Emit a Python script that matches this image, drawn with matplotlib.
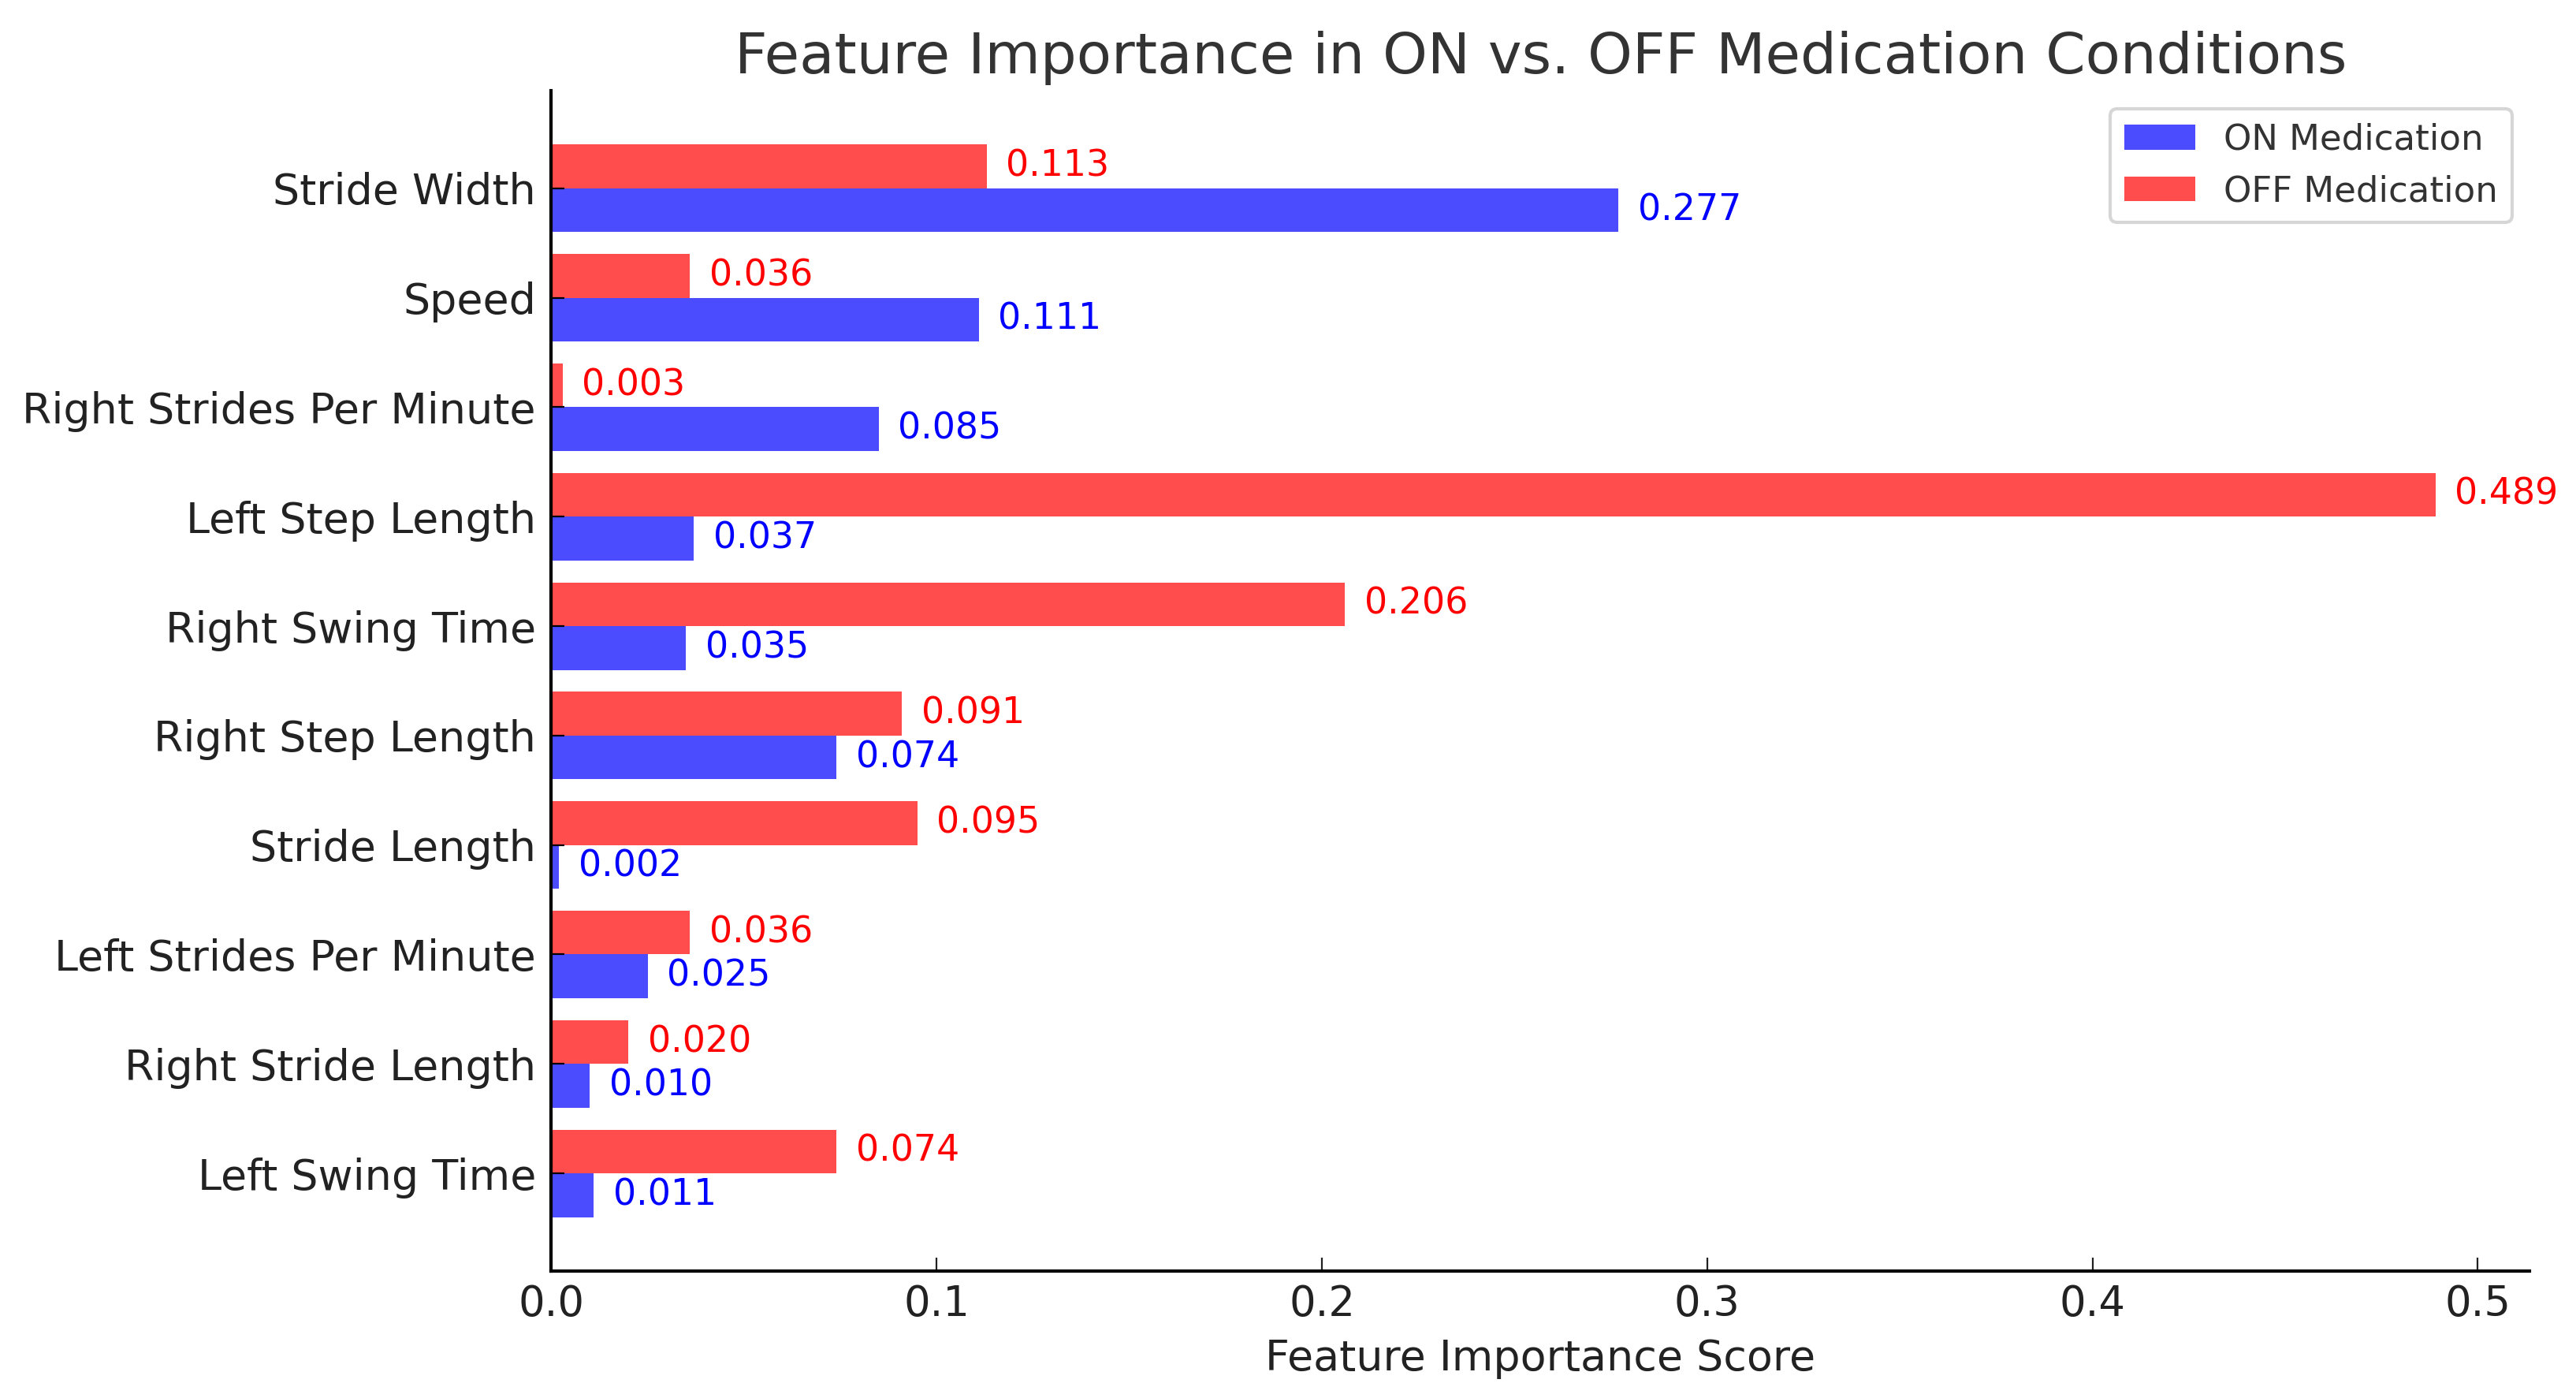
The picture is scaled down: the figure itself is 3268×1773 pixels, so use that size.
import numpy as np
import matplotlib
matplotlib.use("Agg")
import matplotlib.pyplot as plt

features = [
    "Stride Width",
    "Speed",
    "Right Strides Per Minute",
    "Left Step Length",
    "Right Swing Time",
    "Right Step Length",
    "Stride Length",
    "Left Strides Per Minute",
    "Right Stride Length",
    "Left Swing Time",
]
on_med = [0.277, 0.111, 0.085, 0.037, 0.035, 0.074, 0.002, 0.025, 0.010, 0.011]
off_med = [0.113, 0.036, 0.003, 0.489, 0.206, 0.091, 0.095, 0.036, 0.020, 0.074]

# top feature first -> reverse positions
y = np.arange(len(features))[::-1]
h = 0.4

fig, ax = plt.subplots(figsize=(16.34, 8.865), dpi=200)
fig.subplots_adjust(left=0.214, right=0.982, top=0.935, bottom=0.091)

ax.barh(y - h / 2, on_med, height=h, color="blue", alpha=0.7, label="ON Medication")
ax.barh(y + h / 2, off_med, height=h, color="red", alpha=0.7, label="OFF Medication")

for yi, v in zip(y, on_med):
    ax.text(v + 0.005, yi - h / 2, f"{v:.3f}", va="center", color="blue", fontsize=16.5)
for yi, v in zip(y, off_med):
    ax.text(v + 0.005, yi + h / 2, f"{v:.3f}", va="center", color="red", fontsize=16.5)

ax.set_yticks(y)
ax.set_yticklabels(features, fontsize=19.4, color="#222222")
ax.tick_params(axis="x", labelsize=19, colors="#222222", direction="in", length=6, pad=6)
ax.tick_params(axis="y", direction="in", length=6, pad=7)
ax.set_xlabel("Feature Importance Score", fontsize=19.4, color="#222222", labelpad=6)
ax.set_title("Feature Importance in ON vs. OFF Medication Conditions",
             fontsize=26, color="#333333", pad=8)

for s in ["top", "right"]:
    ax.spines[s].set_visible(False)
ax.spines["left"].set_linewidth(1.5)
ax.spines["bottom"].set_linewidth(1.5)

leg = ax.legend(loc="upper right", fontsize=16.2, frameon=True, fancybox=True)
leg.get_frame().set_edgecolor("#cccccc")
leg.get_frame().set_linewidth(1.5)
for t in leg.get_texts():
    t.set_color("#333333")

fig.savefig("out.png", dpi=200)
